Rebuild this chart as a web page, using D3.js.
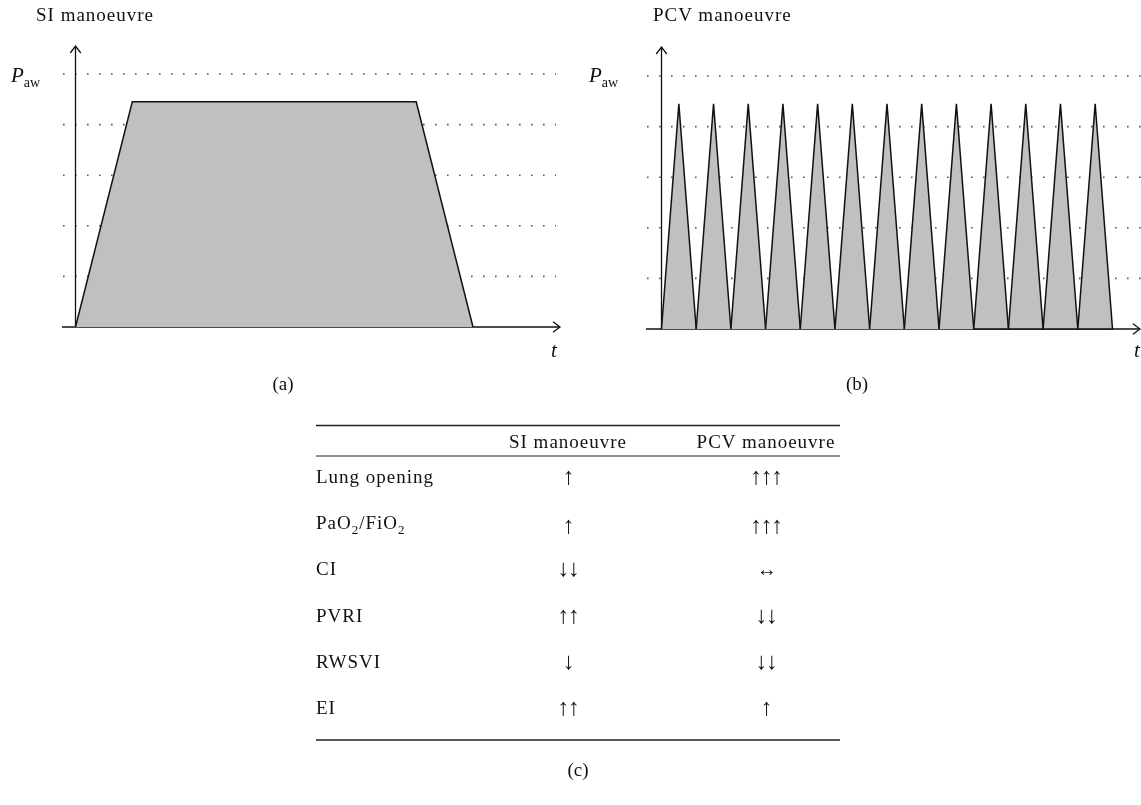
<!DOCTYPE html>
<html>
<head>
<meta charset="utf-8">
<script src="https://cdn.jsdelivr.net/npm/d3@7"></script>
<style>
  body { margin: 0; background: #fff; }
  #fig { filter: grayscale(100%); }
  svg text { font-family: "Liberation Serif", "Times New Roman", serif; fill: #111; }
</style>
</head>
<body>
<svg id="fig" width="1141" height="805"></svg>
<script>
// pressure grid levels (arbitrary units, 5 dotted lines)
const gridLevels = [10, 20, 30, 40, 50];

// SI manoeuvre: sustained inflation profile (time, pressure)
const siTimes = [0, 5, 30, 35];
const siPressure = [0, 44.5, 44.5, 0];

// PCV manoeuvre: 13 pressure controlled breaths, peak of each
const pcvPeaks = [44.5, 44.5, 44.5, 44.5, 44.5, 44.5, 44.5, 44.5, 44.5, 44.5, 44.5, 44.5, 44.5];

// table (c)
const colHeaders = ["SI manoeuvre", "PCV manoeuvre"];
const rowLabels = ["Lung opening", "PaO2/FiO2", "CI", "PVRI", "RWSVI", "EI"];
const siEffects = ["↑", "↑", "↓↓", "↑↑", "↓", "↑↑"];
const pcvEffects = ["↑↑↑", "↑↑↑", "↔", "↓↓", "↓↓", "↑"];

const svg = d3.select("#fig");
const fontSize = 19;
const spacing = 1.0;

function arrowHead(g, x, y, dir) {
  // open chevron at (x,y)
  const s = 7;
  const p = dir === "up"
    ? [[x - s * 0.75, y + s], [x, y], [x + s * 0.75, y + s]]
    : [[x - s, y - s * 0.75], [x, y], [x - s, y + s * 0.75]];
  g.append("path").attr("d", d3.line()(p))
    .attr("fill", "none").attr("stroke", "#111").attr("stroke-width", 1.3);
}

function paw(g, x, y) {
  const t = g.append("text").attr("x", x).attr("y", y).attr("font-size", 21);
  t.append("tspan").attr("font-style", "italic").text("P");
  t.append("tspan").attr("font-size", 14).attr("dy", 5).text("aw");
}

function drawAxes(g, x, y, xStart, xEnd, yTop, gridStart, gridEnd) {
  // dotted grid
  g.append("g").selectAll("line").data(gridLevels).join("line")
    .attr("x1", gridStart).attr("x2", gridEnd)
    .attr("y1", d => y(d)).attr("y2", d => y(d))
    .attr("stroke", "#555").attr("stroke-width", 1.6)
    .attr("stroke-dasharray", "1.6,10.4");
  const x0 = x(0), y0 = y(0);
  g.append("line").attr("x1", xStart).attr("x2", xEnd).attr("y1", y0).attr("y2", y0)
    .attr("stroke", "#111").attr("stroke-width", 1.3);
  g.append("line").attr("x1", x0).attr("x2", x0).attr("y1", y0).attr("y2", yTop)
    .attr("stroke", "#111").attr("stroke-width", 1.3);
  arrowHead(g, x0, yTop, "up");
  arrowHead(g, xEnd, y0, "right");
}

// ---------- (a) SI manoeuvre ----------
const ga = svg.append("g");
const xa = d3.scaleLinear().domain([0, 35]).range([75.5, 473]);
const ya = d3.scaleLinear().domain([0, 50]).range([327, 74]);

drawAxes(ga, xa, ya, 62, 560, 46, 63, 556);

const siPts = siTimes.map((t, i) => [xa(t), ya(siPressure[i])]);
ga.append("path")
  .attr("d", d3.line()(siPts))
  .attr("fill", "#c0c0c0").attr("stroke", "#111").attr("stroke-width", 1.5)
  .attr("stroke-linejoin", "miter");

ga.append("text").attr("x", 36).attr("y", 21).attr("font-size", fontSize)
  .attr("letter-spacing", spacing).text("SI manoeuvre");
paw(ga, 11, 82);
ga.append("text").attr("x", 554).attr("y", 357).attr("font-size", 21)
  .attr("font-style", "italic").attr("text-anchor", "middle").text("t");
ga.append("text").attr("x", 283).attr("y", 390).attr("font-size", fontSize)
  .attr("text-anchor", "middle").text("(a)");

// ---------- (b) PCV manoeuvre ----------
const gb = svg.append("g");
const xb = d3.scaleLinear().domain([0, 13]).range([661.5, 1112.5]);
const yb = d3.scaleLinear().domain([0, 50]).range([329, 76]);

drawAxes(gb, xb, yb, 646, 1140, 47, 647, 1141);

gb.append("g").selectAll("path").data(pcvPeaks).join("path")
  .attr("d", (p, i) => {
    const pts = [[xb(i), yb(0)], [xb(i + 0.5), yb(p)], [xb(i + 1), yb(0)]];
    return d3.line()(pts) + (i >= 9 ? "Z" : "");
  })
  .attr("fill", "#c0c0c0").attr("stroke", "#111").attr("stroke-width", 1.5)
  .attr("stroke-linejoin", "miter");

gb.append("text").attr("x", 653).attr("y", 21).attr("font-size", fontSize)
  .attr("letter-spacing", spacing).text("PCV manoeuvre");
paw(gb, 589, 82);
gb.append("text").attr("x", 1137).attr("y", 357).attr("font-size", 21)
  .attr("font-style", "italic").attr("text-anchor", "middle").text("t");
gb.append("text").attr("x", 857).attr("y", 390).attr("font-size", fontSize)
  .attr("text-anchor", "middle").text("(b)");

// ---------- (c) table ----------
const gc = svg.append("g");
const tableLeft = 316, tableRight = 840;
const colX = d3.scaleOrdinal().domain(colHeaders).range([568, 766]);
const rowY = d3.scalePoint().domain(rowLabels).range([483, 714]);

gc.append("line").attr("x1", tableLeft).attr("x2", tableRight).attr("y1", 425.5).attr("y2", 425.5)
  .attr("stroke", "#222").attr("stroke-width", 1.6);
gc.append("line").attr("x1", tableLeft).attr("x2", tableRight).attr("y1", 456).attr("y2", 456)
  .attr("stroke", "#222").attr("stroke-width", 1);
gc.append("line").attr("x1", tableLeft).attr("x2", tableRight).attr("y1", 740).attr("y2", 740)
  .attr("stroke", "#222").attr("stroke-width", 1.6);

gc.selectAll("text.head").data(colHeaders).join("text").attr("class", "head")
  .attr("x", d => colX(d)).attr("y", 448).attr("font-size", fontSize)
  .attr("letter-spacing", spacing).attr("text-anchor", "middle").text(d => d);

// row labels, digits written as subscripts
gc.selectAll("text.lab").data(rowLabels).join("text").attr("class", "lab")
  .attr("x", tableLeft).attr("y", d => rowY(d)).attr("font-size", fontSize)
  .attr("letter-spacing", spacing)
  .each(function (d) {
    const t = d3.select(this);
    let shift = 0;
    d.split(/(\d)/).filter(s => s.length).forEach(s => {
      const sub = /\d/.test(s);
      const dy = sub ? 5 - shift : -shift;
      shift = sub ? 5 : 0;
      t.append("tspan").attr("dy", dy).attr("font-size", sub ? 13 : null).text(s);
    });
  });

const cells = rowLabels.flatMap((r, i) => [
  { row: r, col: colHeaders[0], v: siEffects[i] },
  { row: r, col: colHeaders[1], v: pcvEffects[i] }
]);
gc.selectAll("text.cell").data(cells).join("text").attr("class", "cell")
  .attr("x", d => colX(d.col))
  .attr("y", d => rowY(d.row) + (d.row === "PaO2/FiO2" ? 4 : 1))
  .attr("font-size", d => d.v === "↔" ? 20 : 24)
  .attr("letter-spacing", -1.5)
  .attr("fill", "#333")
  .attr("text-anchor", "middle").text(d => d.v);

gc.append("text").attr("x", 578).attr("y", 776).attr("font-size", fontSize)
  .attr("text-anchor", "middle").text("(c)");
</script>
</body>
</html>
